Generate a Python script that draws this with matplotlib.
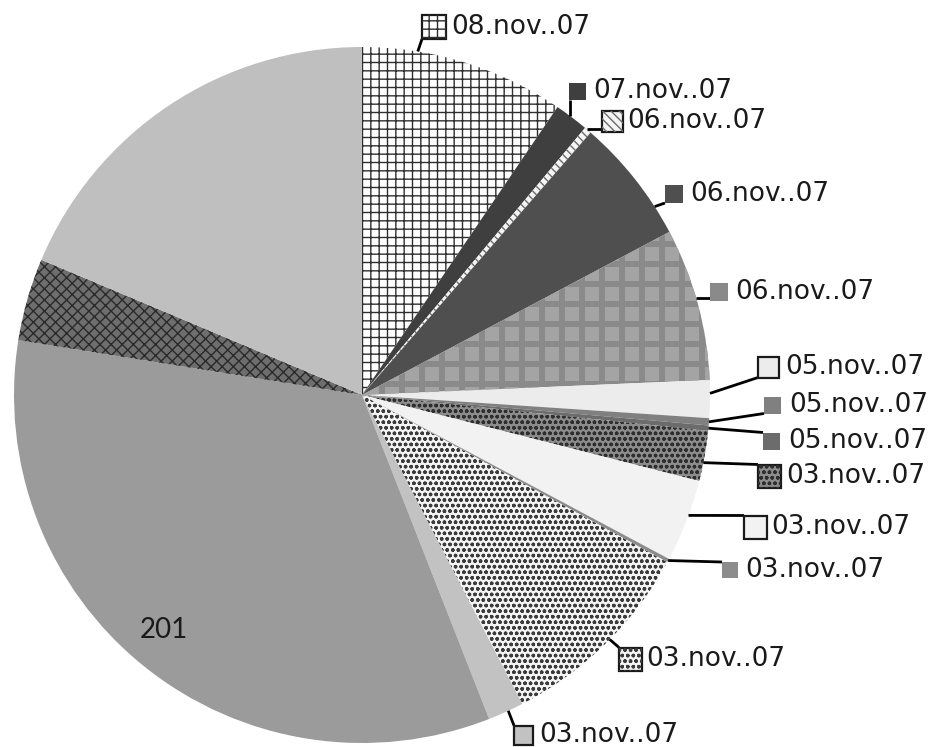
import numpy as np
import matplotlib.pyplot as plt
from matplotlib.patches import Rectangle
from matplotlib.collections import PatchCollection

# slices, clockwise from 12 o'clock
labels = ['08.nov..07', '07.nov..07', '06.nov..07', '06.nov..07', '06.nov..07',
          '05.nov..07', '05.nov..07', '05.nov..07', '03.nov..07', '03.nov..07',
          '03.nov..07', '03.nov..07', '03.nov..07', '201', '', '']
values = [57, 9.5, 2, 35, 42.5, 10.5, 2, 1.5, 14, 23, 1, 56.5, 10, 201, 23, 112]

# fill styles: (facecolor, hatch, hatch colour, bordered key)
styles = [
    ('#ffffff', '++', '#2e2e2e', True),
    ('#3f3f3f', None, None, False),
    ('#f4f4f4', '\\\\\\\\', '#6a6a6a', True),
    ('#4f4f4f', None, None, False),
    ('#8a8a8a', 'squares', None, False),
    ('#ececec', None, None, True),
    ('#808080', None, None, False),
    ('#6c6c6c', None, None, False),
    ('#8c8c8c', 'ooo', '#2e2e2e', True),
    ('#f2f2f2', None, None, True),
    ('#8c8c8c', None, None, False),
    ('#f4f4f4', 'ooo', '#3c3c3c', True),
    ('#c2c2c2', None, None, True),
    ('#9b9b9b', None, None, False),
    ('#6e6e6e', 'xxx', '#2a2a2a', False),
    ('#bfbfbf', None, None, False),
]

# label layout: key left, key right, key centre y, text left, leader position within slice
label_layout = [
    (422, 446, 27, 451, 0.27),
    (569, 586, 91, 593, 0.43),
    (602, 623, 121, 627, 0.30),
    (665, 683, 194, 690, 0.77),
    (710, 728, 292, 735, 0.46),
    (758, 779, 367, 785, 0.35),
    (764, 781, 405, 789, 0.50),
    (763, 780, 441, 788, 0.50),
    (758, 781, 476, 786, 0.63),
    (744, 767, 527, 771, 0.43),
    (722, 738, 570, 745, 0.50),
    (619, 642, 659, 646, 0.47),
    (514, 533, 735, 539, 0.43),
]

cx, cy, r = 362, 395, 348

fig = plt.figure(figsize=(9.3, 7.47), dpi=100)
ax = fig.add_axes([0, 0, 1, 1])

wedges, _ = ax.pie(values, center=(cx, cy), radius=r, startangle=-90,
                   counterclock=True, wedgeprops=dict(linewidth=0))
ax.set_xlim(0, 930)
ax.set_ylim(747, 0)
ax.set_aspect('equal')
ax.axis('off')


def squares(clip, x0, y0, x1, y1):
    rects = [Rectangle((x, y), 14, 14) for x in np.arange(x0, x1, 20)
             for y in np.arange(y0, y1, 20)]
    pc = PatchCollection(rects, facecolor='#a4a4a4', edgecolor='none', zorder=3)
    ax.add_collection(pc)
    pc.set_clip_path(clip)


for w, (fc, hatch, hc, _) in zip(wedges, styles):
    w.set_facecolor(fc)
    if hatch == 'squares':
        squares(w, cx + 3, cy - r, cx + r, cy + r)
    elif hatch:
        w.set_hatch(hatch)
        w.set_edgecolor(hc)
        w.set_linewidth(0)

# date labels with keys and leader lines
total = sum(values)
start = 0.0
for i, v in enumerate(values):
    a0 = start / total * 360
    start += v
    a1 = start / total * 360
    if i >= len(label_layout):
        continue
    kx0, kx1, ky, tx, frac = label_layout[i]
    fc, hatch, hc, border = styles[i]
    s = kx1 - kx0
    key = Rectangle((kx0, ky - s / 2), s, s, facecolor=fc, zorder=4,
                    edgecolor='#1a1a1a' if border else 'none',
                    linewidth=1.6 if border else 0)
    ax.add_patch(key)
    if hatch == 'squares':
        squares(key, kx0 + 8, ky - s / 2 + 2, kx1, ky + s / 2)
    elif hatch:
        hk = Rectangle((kx0, ky - s / 2), s, s, facecolor='none', hatch=hatch,
                       edgecolor=hc, linewidth=0, zorder=4)
        ax.add_patch(hk)
    ang = np.radians(a0 + frac * (a1 - a0))
    sx, sy = cx + r * np.sin(ang), cy - r * np.cos(ang)
    ex = min(max(sx, kx0), kx1)
    ey = min(max(sy, ky - s / 2), ky + s / 2)
    ax.plot([sx, ex], [sy, ey], color='black', linewidth=2, zorder=3,
            solid_capstyle='butt')
    ax.text(tx, ky, labels[i], fontsize=19, color='#1a1a1a',
            ha='left', va='center')

ax.text(164, 630, labels[13], fontsize=20, family='Lato', color='#1a1a1a',
        ha='center', va='center')

fig.savefig('out.png', dpi=100)
